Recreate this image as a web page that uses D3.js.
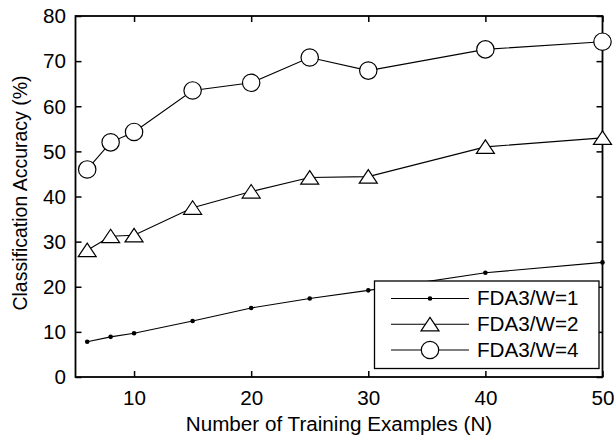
<!DOCTYPE html>
<html><head><meta charset="utf-8">
<script src="https://cdn.jsdelivr.net/npm/d3@7"></script>
<style>
body{margin:0;background:#fff;}
text{font-family:"Liberation Sans",Arial,Helvetica,sans-serif;fill:#000;}
</style></head>
<body><svg id="c" width="615" height="439"></svg>
<script>
const xValues = [6, 8, 10, 15, 20, 25, 30, 40, 50];
const w1 = [7.8, 8.9, 9.7, 12.4, 15.3, 17.4, 19.2, 23.1, 25.4];
const w2 = [28.1, 31.2, 31.4, 37.5, 41.1, 44.2, 44.4, 51.0, 53.0];
const w4 = [46.0, 52.0, 54.3, 63.5, 65.2, 70.8, 67.9, 72.6, 74.3];
const seriesNames = ["FDA3/W=1", "FDA3/W=2", "FDA3/W=4"];
const xTicks = [10, 20, 30, 40, 50];
const yTicks = [0, 10, 20, 30, 40, 50, 60, 70, 80];

const L = 75.5, R = 602.5, T = 16, B = 377;
const fs = 19.5, sx = 1.06;
const svg = d3.select("#c");
const x = d3.scaleLinear().domain([5, 50]).range([L, R]);
const y = d3.scaleLinear().domain([0, 80]).range([B, T]);

// ticks (inward, mirrored)
const tk = 6;
const xb = svg.append("g").attr("transform", `translate(0,${B})`)
  .call(d3.axisBottom(x).tickValues(xTicks).tickSize(-tk).tickPadding(14).tickFormat(d3.format("d")));
const xt = svg.append("g").attr("transform", `translate(0,${T})`)
  .call(d3.axisTop(x).tickValues(xTicks).tickSize(-tk).tickFormat(""));
const yl = svg.append("g").attr("transform", `translate(${L},0)`)
  .call(d3.axisLeft(y).tickValues(yTicks).tickSize(-tk).tickPadding(14).tickFormat(d3.format("d")));
const yr = svg.append("g").attr("transform", `translate(${R},0)`)
  .call(d3.axisRight(y).tickValues(yTicks).tickSize(-tk).tickFormat(""));
[xb, xt, yl, yr].forEach(g => {
  g.select(".domain").remove();
  g.selectAll(".tick line").attr("stroke", "#000").attr("stroke-width", 1.5);
  g.selectAll("text").attr("font-size", fs).attr("font-family", null).attr("fill", "#000");
});
xb.selectAll(".tick text").attr("dy", null).attr("y", 28).attr("transform", `scale(${sx},1)`);
yl.selectAll(".tick text").attr("dy", "0.35em").attr("x", -9).attr("transform", `scale(${sx},1)`);

// box
svg.append("rect").attr("x", L).attr("y", T).attr("width", R - L).attr("height", B - T)
  .attr("fill", "none").attr("stroke", "#000").attr("stroke-width", 1.8);

// axis labels
svg.append("text").attr("x", (L + R) / 2).attr("y", 431).attr("text-anchor", "middle")
  .attr("font-size", fs).attr("transform", `translate(${(L + R) / 2 * (1 - sx)},0) scale(${sx},1)`)
  .text("Number of Training Examples (N)");
svg.append("text").attr("text-anchor", "middle").attr("font-size", fs)
  .attr("transform", `translate(27,193) rotate(-90)`)
  .text("Classification Accuracy (%)");

const line = d3.line().x(d => x(d[0])).y(d => y(d[1]));
const series = [w1, w2, w4];
const triPath = "M0,-7L9,6.5L-9,6.5Z";
function marker(g, k) {
  if (k === 0) g.append("circle").attr("r", 2.3).attr("fill", "#000");
  else if (k === 1) g.append("path").attr("d", triPath).attr("fill", "#fff").attr("stroke", "#000").attr("stroke-width", 1.2);
  else g.append("circle").attr("r", 8.7).attr("fill", "#fff").attr("stroke", "#000").attr("stroke-width", 1.2);
}
series.forEach((vals, k) => {
  const pts = xValues.map((v, i) => [v, vals[i]]);
  svg.append("path").attr("d", line(pts)).attr("fill", "none").attr("stroke", "#000").attr("stroke-width", 1.1);
  pts.forEach(p => {
    const g = svg.append("g").attr("transform", `translate(${x(p[0])},${y(p[1])})`);
    marker(g, k);
  });
});

// legend
const lg = svg.append("g");
lg.append("rect").attr("x", 374.5).attr("y", 281).attr("width", 224.5).attr("height", 87.5)
  .attr("fill", "#fff").attr("stroke", "#000").attr("stroke-width", 1.3);
const rows = [298.5, 324.3, 350];
seriesNames.forEach((n, k) => {
  lg.append("line").attr("x1", 391).attr("x2", 469).attr("y1", rows[k]).attr("y2", rows[k])
    .attr("stroke", "#000").attr("stroke-width", 1.1);
  const g = lg.append("g").attr("transform", `translate(430,${rows[k]})`);
  marker(g, k);
  lg.append("text").attr("x", 477 / sx).attr("y", rows[k] + 7).attr("font-size", fs)
    .attr("transform", `scale(${sx},1)`).text(n);
});
</script></body></html>
